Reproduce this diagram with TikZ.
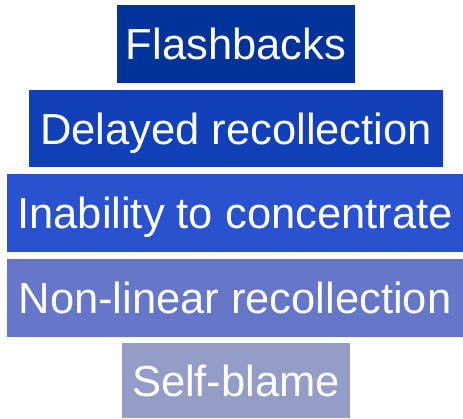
\documentclass[tikz,border=0pt]{standalone}
\usepackage{fontspec}
\setmainfont{Liberation Sans}
\definecolor{flashblue}{HTML}{003399}
\definecolor{delayblue}{HTML}{1240B8}
\definecolor{inabblue}{HTML}{2A52CE}
\definecolor{nonlinblue}{HTML}{6676C8}
\definecolor{blameblue}{HTML}{949CC8}
\tikzset{
  symbox/.style={rectangle, inner sep=0pt, text=white,
    font=\fontsize{43.5}{48}\selectfont, text height=31pt, text depth=0pt},
}
\begin{document}
\begin{tikzpicture}[x=1pt, y=-1pt]
  \useasboundingbox (0,0) rectangle (463,418);
  % Coordinates
  \coordinate (A) at (236, 44.0);
  \coordinate (B) at (236, 128.5);
  \coordinate (C) at (235, 213.0);
  \coordinate (D) at (235, 298.0);
  \coordinate (E) at (236, 380.5);

  % Drawing
  \node[symbox, fill=flashblue, minimum width=238pt, minimum height=78pt] (flash) at (A) {Flashbacks};
  \node[symbox, fill=delayblue, minimum width=414pt, minimum height=77pt] (delay) at (B) {Delayed recollection};
  \node[symbox, fill=inabblue, minimum width=456pt, minimum height=78pt] (inab) at (C) {Inability to concentrate};
  \node[symbox, fill=nonlinblue, minimum width=456pt, minimum height=78pt] (nonlin) at (D) {Non-linear recollection};
  \node[symbox, fill=blameblue, minimum width=228pt, minimum height=75pt] (blame) at (E) {Self-blame};
\end{tikzpicture}
\end{document}
